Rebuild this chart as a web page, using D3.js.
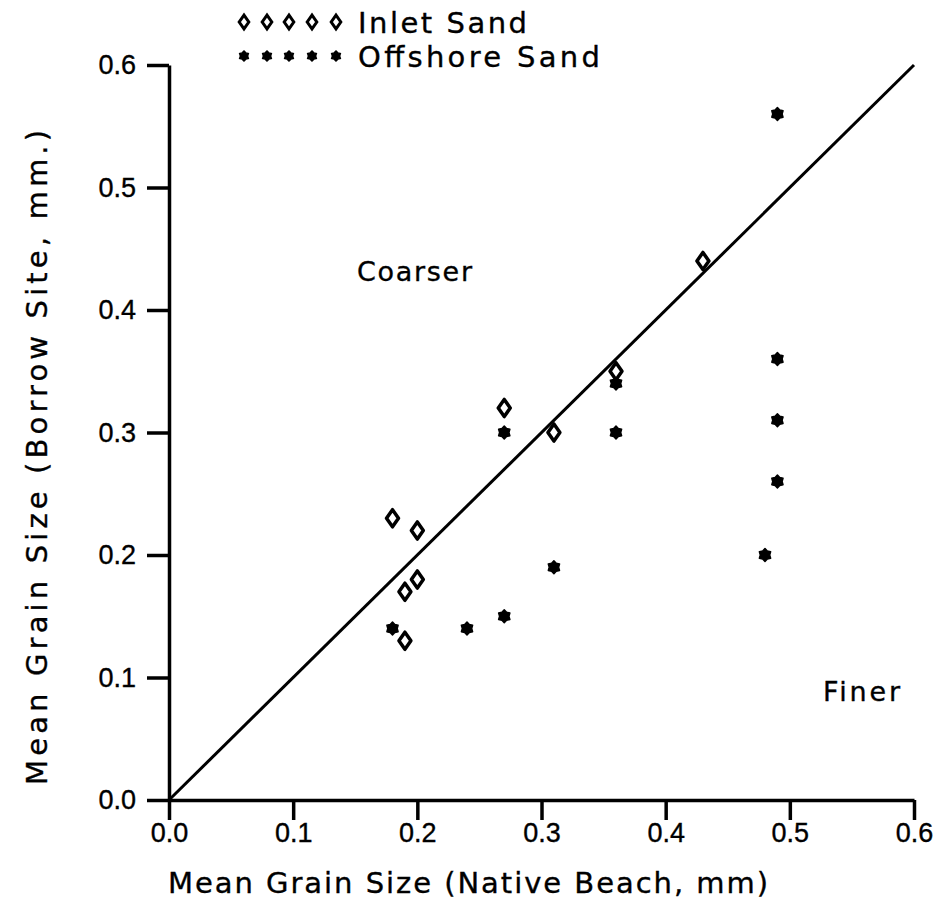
<!DOCTYPE html>
<html>
<head>
<meta charset="utf-8">
<script src="https://cdn.jsdelivr.net/npm/d3@7"></script>
<style>
  body { margin: 0; background: #fff; }
  svg { display: block; font-family: "DejaVu Sans", sans-serif; }
</style>
</head>
<body>
<div id="chart"></div>
<script>
// data (mm)
const inletX = [0.18, 0.20, 0.19, 0.20, 0.19, 0.27, 0.31, 0.36, 0.43];
const inletY = [0.23, 0.22, 0.17, 0.18, 0.13, 0.32, 0.30, 0.35, 0.44];
const offshoreX = [0.18, 0.24, 0.27, 0.31, 0.27, 0.36, 0.36, 0.49, 0.49, 0.49, 0.49, 0.48];
const offshoreY = [0.14, 0.14, 0.15, 0.19, 0.30, 0.34, 0.30, 0.56, 0.36, 0.31, 0.26, 0.20];
const tickValues = [0, 0.1, 0.2, 0.3, 0.4, 0.5, 0.6];
const lineEnds = [0, 0.6]; // 1:1 line

const width = 935, height = 901;
const margin = { left: 169, right: 21, top: 65, bottom: 101 };

const svg = d3.select('#chart').append('svg')
  .attr('width', width).attr('height', height);

const x = d3.scaleLinear().domain([0, 0.6]).range([margin.left, width - margin.right]);
const y = d3.scaleLinear().domain([0, 0.6]).range([height - margin.bottom, margin.top]);

const fmt = d3.format('.1f');

// axes
const xAxis = svg.append('g')
  .attr('transform', `translate(0,${y(0)})`)
  .call(d3.axisBottom(x).tickValues(tickValues).tickFormat(fmt).tickSize(20).tickSizeOuter(0).tickPadding(3));
const yAxis = svg.append('g')
  .attr('transform', `translate(${x(0)},0)`)
  .call(d3.axisLeft(y).tickValues(tickValues).tickFormat(fmt).tickSize(22).tickSizeOuter(0).tickPadding(11));

[xAxis, yAxis].forEach(g => {
  g.selectAll('path, line').attr('stroke', '#000').attr('stroke-width', 3.5);
  g.selectAll('text').attr('font-size', 27).attr('fill', '#000')
    .attr('stroke', '#000').attr('stroke-width', 0.35);
});

// 1:1 line
svg.append('line')
  .attr('x1', x(lineEnds[0])).attr('y1', y(lineEnds[0]))
  .attr('x2', x(lineEnds[1])).attr('y2', y(lineEnds[1]))
  .attr('stroke', '#000').attr('stroke-width', 3);

// marker shapes: fat diamond and a filled 6-point blob
const fatDiamond = {
  draw(ctx, size) {
    const h = Math.sqrt(size) * 0.95, w = h * 0.7;
    ctx.moveTo(0, -h); ctx.lineTo(w, 0); ctx.lineTo(0, h); ctx.lineTo(-w, 0); ctx.closePath();
  }
};
const blob = {
  draw(ctx, size) {
    const r = Math.sqrt(size), ri = r * 0.72;
    for (let i = 0; i < 12; i++) {
      const a = i * Math.PI / 6 - Math.PI / 2, rr = i % 2 ? ri : r;
      i ? ctx.lineTo(rr * Math.cos(a), rr * Math.sin(a)) : ctx.moveTo(rr * Math.cos(a), rr * Math.sin(a));
    }
    ctx.closePath();
  }
};

// offshore sand
svg.append('g').selectAll('path')
  .data(offshoreX.map((v, i) => [v, offshoreY[i]]))
  .join('path')
  .attr('transform', d => `translate(${x(d[0])},${y(d[1])})`)
  .attr('d', d3.symbol(blob, 42))
  .attr('fill', '#000').attr('stroke', '#000').attr('stroke-width', 1.5).attr('stroke-linejoin', 'round');

// inlet sand
svg.append('g').selectAll('path')
  .data(inletX.map((v, i) => [v, inletY[i]]))
  .join('path')
  .attr('transform', d => `translate(${x(d[0])},${y(d[1])})`)
  .attr('d', d3.symbol(fatDiamond, 81))
  .attr('fill', '#fff').attr('stroke', '#000').attr('stroke-width', 3.5).attr('stroke-linejoin', 'round');

// region labels
const plain = (sel) => sel.attr('fill', '#000').attr('stroke', '#000').attr('stroke-width', 0.35)
  .attr('lengthAdjust', 'spacing');
svg.append('text').attr('x', 357).attr('y', 281).attr('font-size', 27)
  .attr('textLength', 115).call(plain).text('Coarser');
svg.append('text').attr('x', 823).attr('y', 701).attr('font-size', 27)
  .attr('textLength', 77).call(plain).text('Finer');

// axis titles
svg.append('text').attr('x', 168).attr('y', 893).attr('font-size', 29)
  .attr('textLength', 600).call(plain).text('Mean Grain Size (Native Beach, mm)');
svg.append('text').attr('transform', 'translate(47,785) rotate(-90)').attr('font-size', 29)
  .attr('textLength', 655).call(plain).text('Mean Grain Size (Borrow Site, mm.)');

// legend
const legendDots = [244, 267, 289, 312, 336];
const legendRows = [
  { label: 'Inlet Sand', sym: d3.symbol(fatDiamond, 52), fill: '#fff', sw: 3, y: 22, len: 169 },
  { label: 'Offshore Sand', sym: d3.symbol(blob, 25), fill: '#000', sw: 1.5, y: 56, len: 242 }
];
legendRows.forEach(r => {
  const g = svg.append('g');
  g.selectAll('path').data(legendDots).join('path')
    .attr('transform', d => `translate(${d},${r.y})`)
    .attr('d', r.sym)
    .attr('fill', r.fill).attr('stroke', '#000').attr('stroke-width', r.sw);
  g.append('text').attr('x', 358).attr('y', r.y + 11).attr('font-size', 29)
    .attr('textLength', r.len).call(plain).text(r.label);
});
</script>
</body>
</html>
